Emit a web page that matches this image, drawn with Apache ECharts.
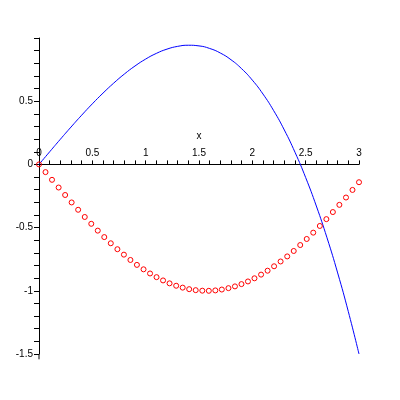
<!DOCTYPE html>
<html>
<head>
<meta charset="utf-8">
<script src="https://cdn.jsdelivr.net/npm/echarts@6/dist/echarts.min.js"></script>
<style>html,body{margin:0;padding:0;background:#fff}#c{width:400px;height:400px}</style>
</head>
<body>
<div id="c"></div>
<script>
const blueX = [0,0.1,0.2,0.3,0.4,0.5,0.6,0.7,0.8,0.9,1.0,1.1,1.2,1.3,1.4,1.5,1.6,1.7,1.8,1.9,2.0,2.1,2.2,2.3,2.4,2.5,2.6,2.7,2.8,2.9,3.0];
const blueY = [0,0.0998,0.1987,0.2955,0.3893,0.4792,0.564,0.6428,0.7147,0.7785,0.8333,0.8782,0.912,0.9338,0.9427,0.9375,0.9173,0.8812,0.828,0.7568,0.6667,0.5565,0.4253,0.2722,0.096,-0.1042,-0.3293,-0.5805,-0.8587,-1.1648,-1.5];
const redX = [0,0.061,0.122,0.184,0.245,0.306,0.367,0.429,0.490,0.551,0.612,0.673,0.735,0.796,0.857,0.918,0.980,1.041,1.102,1.163,1.224,1.286,1.347,1.408,1.469,1.531,1.592,1.653,1.714,1.776,1.837,1.898,1.959,2.020,2.082,2.143,2.204,2.265,2.327,2.388,2.449,2.510,2.571,2.633,2.694,2.755,2.816,2.878,2.939,3.0];
const redY = [0,-0.061,-0.122,-0.183,-0.242,-0.301,-0.359,-0.416,-0.470,-0.524,-0.575,-0.624,-0.671,-0.714,-0.756,-0.795,-0.830,-0.863,-0.892,-0.918,-0.941,-0.960,-0.975,-0.987,-0.995,-0.999,-1.000,-0.997,-0.990,-0.979,-0.965,-0.947,-0.926,-0.901,-0.872,-0.841,-0.806,-0.768,-0.728,-0.685,-0.638,-0.590,-0.540,-0.487,-0.433,-0.377,-0.320,-0.262,-0.202,-0.141];
const xName = 'x';

const font = {fontFamily: 'Liberation Sans, Arial, sans-serif', fontSize: 10, color: '#000'};
function halfLabel(v, hideTop) {
  const r = Math.round(v * 2);
  if (Math.abs(v * 2 - r) > 1e-6) return '';
  if (hideTop && Math.abs(v - 1) < 1e-6) return '';
  const s = Math.round(v * 10) / 10;
  return String(s === 0 ? 0 : s);
}

const chart = echarts.init(document.getElementById('c'), null, {renderer: 'canvas'});
chart.setOption({
  animation: false,
  backgroundColor: '#fff',
  grid: {left: 39, right: 41, top: 38, bottom: 46, containLabel: false},
  xAxis: {
    type: 'value', min: 0, max: 3, interval: 0.1, position: 'bottom', offset: 0,
    name: xName, nameLocation: 'middle', nameGap: -33, nameMoveOverlap: false,
    nameTextStyle: Object.assign({}, font),
    axisLine: {onZero: false, lineStyle: {color: '#000', width: 1}},
    axisTick: {inside: true, length: 4, lineStyle: {color: '#000'}},
    axisLabel: Object.assign({inside: true, margin: 6, interval: 0, formatter: v => halfLabel(v, false)}, font),
    splitLine: {show: false}
  },
  yAxis: {
    type: 'value', min: -1.5, max: 1.0, interval: 0.1,
    axisLine: {onZero: false, lineStyle: {color: '#000', width: 1}},
    axisTick: {inside: false, length: 5, lineStyle: {color: '#000'}},
    axisLabel: Object.assign({margin: 6, interval: 0, formatter: v => halfLabel(v, true)}, font),
    splitLine: {show: false}
  },
  series: [
    {
      type: 'line', data: blueX.map((x, i) => [x, blueY[i]]),
      smooth: true, showSymbol: false, lineStyle: {color: '#0000ff', width: 1}, z: 3
    },
    {
      type: 'scatter', data: redX.map((x, i) => [x, redY[i]]),
      symbol: 'circle', symbolSize: 5,
      itemStyle: {color: 'rgba(255,255,255,0)', borderColor: '#ff0000', borderWidth: 1, opacity: 1}, z: 4
    }
  ]
});
const pZero = chart.convertToPixel({gridIndex: 0}, [0, 0]);
const p1 = chart.convertToPixel({gridIndex: 0}, [0, -1.5]);
const p2 = chart.convertToPixel({gridIndex: 0}, [0, -1.542]);
chart.setOption({
  xAxis: {offset: -(p1[1] - pZero[1])},
  graphic: [{type: 'line', shape: {x1: p1[0], y1: p1[1], x2: p2[0], y2: p2[1]}, style: {stroke: '#000', lineWidth: 1}, silent: true}]
});
</script>
</body>
</html>
